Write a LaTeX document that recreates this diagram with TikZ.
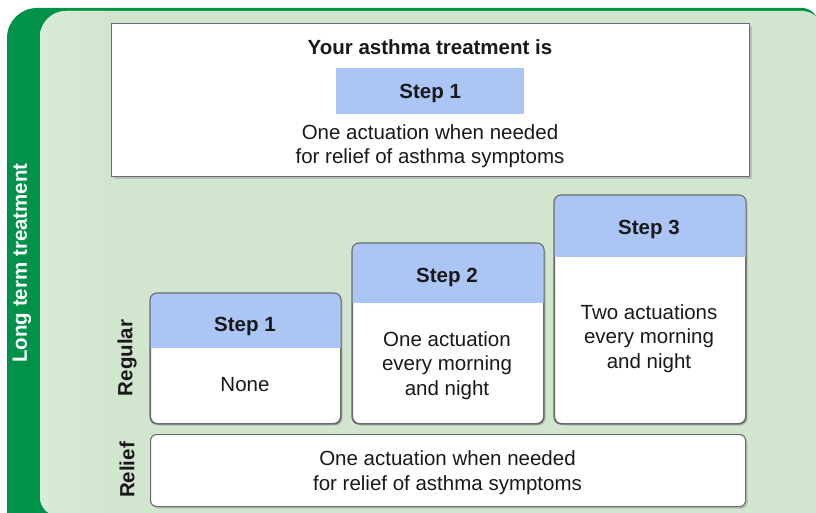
\documentclass[tikz,border=0pt]{standalone}
\usepackage{fontspec}
\setmainfont{Liberation Sans}
\usetikzlibrary{shadows}
\definecolor{framegreen}{RGB}{0,146,72}
\definecolor{panelgreen}{RGB}{209,229,207}
\definecolor{panellight}{RGB}{217,235,215}
\definecolor{headblue}{RGB}{171,197,244}
\definecolor{edgegray}{RGB}{105,108,108}
\begin{document}
\begin{tikzpicture}[x=1pt,y=-1pt,
  txt/.style={font=\fontsize{20.5}{24.5}\selectfont, inner sep=0pt, align=center, text=black!90},
  btxt/.style={txt, font=\fontsize{20.5}{24.5}\selectfont\bfseries},
  sidelabel/.style={btxt, rotate=90},
  panel/.style={draw=edgegray, line width=1.1pt, fill=white, inner sep=0pt,
    drop shadow={opacity=.35, shadow xshift=2pt, shadow yshift=-2pt}},
  card/.style={panel, rounded corners=7pt},
]
\useasboundingbox (0,0) rectangle (816,513);
\begin{scope}
\clip (0,0) rectangle (816,513);
% green frame and pale panel
\fill[framegreen] (7,530) [rounded corners=30] -- (7,8) [rounded corners=16] -- (818,8) -- (818,530) -- cycle;
\begin{scope}
  \clip (40,100) [rounded corners=26] -- (40,11) [rounded corners=12] -- (815,11) [sharp corners] -- (830,40) -- (830,516) [rounded corners=19] -- (40,516) -- cycle;
  \fill[panelgreen] (30,0) rectangle (840,540);
  \shade[left color=panellight, right color=panelgreen] (40,0) rectangle (108,540);
\end{scope}
\end{scope}

% current treatment summary
\node[panel, minimum width=638pt, minimum height=153pt, anchor=north west] (summary) at (111,23) {};
\node[btxt] (summarytitle) at (430,55) [anchor=base] {Your asthma treatment is};
\node[fill=headblue, minimum width=188pt, minimum height=46pt, inner sep=0pt, anchor=north west] (current) at (336,68) {};
\node[btxt, anchor=base] (currentlabel) at (current.center |- 0,99) {Step 1};
\node[txt] (currentdose) at (430,146.3) {One actuation when needed\\for relief of asthma symptoms};

% regular treatment steps
\node[card, minimum width=190pt, minimum height=130pt, anchor=north west] (c1) at (150,293) {};
\node[card, minimum width=191pt, minimum height=180pt, anchor=north west] (c2) at (352,243) {};
\node[card, minimum width=191pt, minimum height=228pt, anchor=north west] (c3) at (554,195) {};
\foreach \c/\h in {c1/55, c2/60, c3/62} {
  \begin{scope}
    \clip[rounded corners=7pt] (\c.north west) rectangle (\c.south east);
    \fill[headblue] (\c.north west) rectangle ([yshift=-\h pt]\c.north east);
  \end{scope}
  \draw[edgegray, line width=1.1pt, rounded corners=7pt] (\c.north west) rectangle (\c.south east);
}
\node[btxt, anchor=base] (c1head) at (245,331) {Step 1};
\node[txt, anchor=base] (c1dose) at (245,391) {None};
\node[btxt, anchor=base] (c2head) at (447,282) {Step 2};
\node[txt] (c2dose) at (447,365.5) {One actuation\\every morning\\and night};
\node[btxt, anchor=base] (c3head) at (649,234) {Step 3};
\node[txt] (c3dose) at (649,338.5) {Two actuations\\every morning\\and night};

% relief row
\node[card, rounded corners=6pt, minimum width=595pt, minimum height=72pt, anchor=north west] (relief) at (150,434) {};
\node[txt] (reliefdose) at (447.5,472.5) {One actuation when needed\\for relief of asthma symptoms};

% row and frame labels
\node[sidelabel] (regular) at (127,358) {Regular};
\node[sidelabel] (relieflabel) at (127,470) {Relief};
\node[sidelabel, text=white] (longterm) at (22,263) {Long term treatment};
\end{tikzpicture}
\end{document}
